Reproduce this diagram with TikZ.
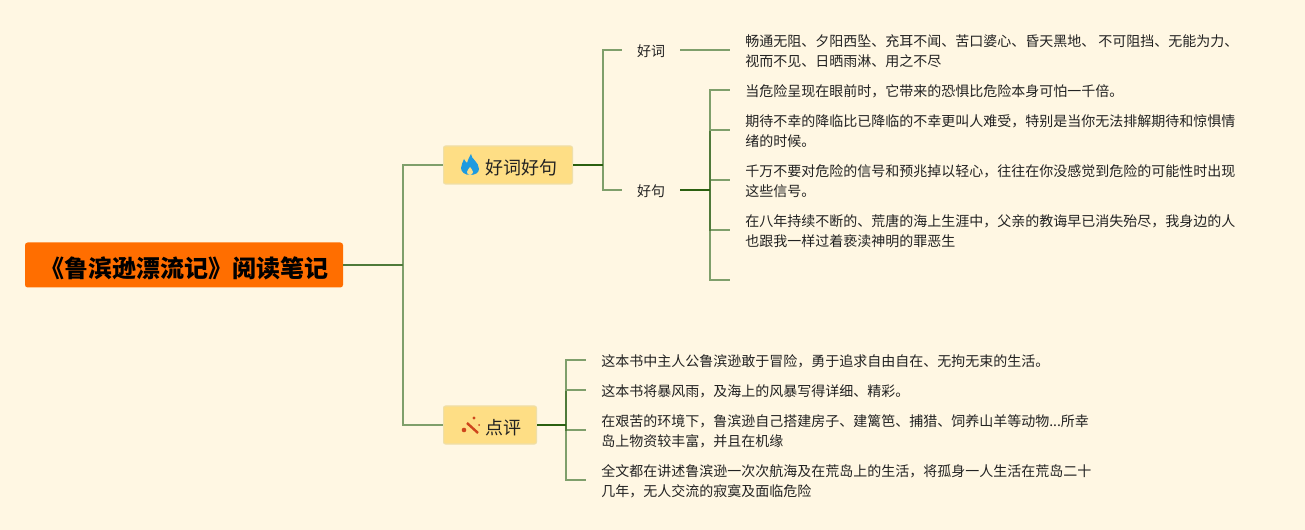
\documentclass[tikz,border=0pt]{standalone}
\usepackage{fontspec}
\setmainfont{Noto Sans CJK SC}
\definecolor{paper}{HTML}{FFF7E3}
\definecolor{rootfill}{HTML}{FF6E00}
\definecolor{topicfill}{HTML}{FEDE85}
\definecolor{topicline}{HTML}{EFDFA8}
\definecolor{lightlink}{HTML}{7F9F6B}
\definecolor{midlink}{HTML}{4F7A3A}
\definecolor{darklink}{HTML}{2B6010}
\definecolor{inktext}{HTML}{222222}
\definecolor{flameblue}{HTML}{1E9BE0}
\definecolor{wandred}{HTML}{CE451C}
\newcommand{\iconroom}{\hspace*{19.5pt}}
\tikzset{
  rootbox/.style={fill=rootfill,rounded corners=2pt,inner xsep=11.25pt,inner ysep=1pt,minimum height=33.75pt,
    text height=19.5pt,text depth=1.4pt,text=black,font=\fontsize{18}{22}\selectfont\bfseries},
  topicbox/.style={draw=topicline,fill=topicfill,line width=0.8pt,rounded corners=1.5pt,inner xsep=11.6pt,inner ysep=1pt,
    minimum height=28.5pt,text height=16.5pt,text depth=1.8pt,text=inktext,font=\fontsize{13.5}{16}\selectfont},
  sublabel/.style={inner xsep=11.25pt,inner ysep=2pt,text height=11.3pt,text depth=1.1pt,text=inktext,font=\fontsize{10.5}{15}\selectfont},
  leaf/.style={anchor=west,yshift=-0.75pt,inner xsep=11.25pt,inner ysep=2pt,align=left,text=inktext,font=\fontsize{10.5}{15}\selectfont},
  link/.style={draw=lightlink,line width=1.1pt},
  stem/.style={draw=darklink,line width=1.4pt},
  rootstem/.style={draw=midlink,line width=1.3pt},
  spine/.style={draw=midlink,line width=1.2pt},
}
\begin{document}
\begin{tikzpicture}[x=0.75pt,y=-0.75pt]
\useasboundingbox (0,0) rectangle (1305,530);
\fill[paper] (0,0) rectangle (1305,530);
% main nodes
\node[rootbox] (root) at (184,265) {《鲁滨逊漂流记》阅读笔记};
\node[topicbox] (good) at (508,165) {\iconroom 好词好句};
\node[topicbox] (review) at (490,425) {\iconroom 点评};
\node[sublabel] (words) at (651,50) {好词};
\node[sublabel] (lines) at (651,190) {好句};
% words and sentences
\node[leaf] (w1) at (730,50) {畅通无阻、夕阳西坠、充耳不闻、苦口婆心、昏天黑地、 不可阻挡、无能为力、\\视而不见、日晒雨淋、用之不尽};
\node[leaf] (s1) at (730,90) {当危险呈现在眼前时，它带来的恐惧比危险本身可怕一千倍。};
\node[leaf] (s2) at (730,130) {期待不幸的降临比已降临的不幸更叫人难受，特别是当你无法排解期待和惊惧情\\绪的时候。};
\node[leaf] (s3) at (730,180) {千万不要对危险的信号和预兆掉以轻心，往往在你没感觉到危险的可能性时出现\\这些信号。};
\node[leaf] (s4) at (730,230) {在八年持续不断的、荒唐的海上生涯中，父亲的教诲早已消失殆尽，我身边的人\\也跟我一样过着亵渎神明的罪恶生};
\coordinate (s5) at (730,280);
% review texts
\node[leaf] (r1) at (586,360) {这本书中主人公鲁滨逊敢于冒险，勇于追求自由自在、无拘无束的生活。};
\node[leaf] (r2) at (586,390) {这本书将暴风雨，及海上的风暴写得详细、精彩。};
\node[leaf] (r3) at (586,430) {在艰苦的环境下，鲁滨逊自己搭建房子、建篱笆、捕猎、饲养山羊等动物...所幸\\岛上物资较丰富，并且在机缘};
\node[leaf] (r4) at (586,480) {全文都在讲述鲁滨逊一次次航海及在荒岛上的生活，将孤身一人生活在荒岛二十\\几年，无人交流的寂寞及面临危险};
% spine positions
\coordinate (hubA) at (403,265);
\coordinate (hubB) at (603,165);
\coordinate (hubC) at (710,190);
\coordinate (hubD) at (566,425);
% connectors
\draw[link] (hubA) |- (good.west);
\draw[link] (hubA) |- (review.west);
\draw[rootstem] (root.east) -- (hubA);
\draw[link] (hubB) |- (words.west);
\draw[link] (hubB) |- (lines.west);
\draw[stem] (good.east) -- (hubB);
\draw[link] (words.east) -- ([yshift=0.75pt]w1.west);
\draw[link] (hubC) |- ([yshift=0.75pt]s1.west);
\draw[link] (hubC) |- ([yshift=0.75pt]s2.west);
\draw[link] (hubC) |- ([yshift=0.75pt]s3.west);
\draw[link] (hubC) |- ([yshift=0.75pt]s4.west);
\draw[link] (hubC) |- (s5);
\draw[spine] (hubC |- s2.west) -- (hubC |- s4.west);
\draw[stem] (lines.east) -- (hubC);
\draw[link] (hubD) |- ([yshift=0.75pt]r1.west);
\draw[link] (hubD) |- ([yshift=0.75pt]r2.west);
\draw[link] (hubD) |- ([yshift=0.75pt]r3.west);
\draw[link] (hubD) |- ([yshift=0.75pt]r4.west);
\draw[spine] (hubD |- r2.west) -- (hubD |- r3.west);
\draw[stem] (review.east) -- (hubD);
% icons
\fill[flameblue] (471,154) .. controls (471,159) and (479,162) .. (479,169)
  .. controls (479,173) and (475,175) .. (470,175)
  .. controls (465,175) and (461,172) .. (461,168)
  .. controls (461,165) and (463,162) .. (464,159)
  .. controls (465,161) and (466,162) .. (467,163)
  .. controls (468,160) and (469,157) .. (471,154) -- cycle;
\fill[topicfill] (470,167) .. controls (471,169) and (473,170) .. (473,172)
  .. controls (473,174) and (471,175) .. (470,175)
  .. controls (468,175) and (467,174) .. (467,172)
  .. controls (467,170) and (469,169) .. (470,167) -- cycle;
\draw[wandred,line width=1.8pt] (467,423) -- (478,433);
\fill[wandred] (474,418) circle (1.6);
\fill[wandred] (464,430) circle (2.3);
\fill[wandred] (479,425) circle (1);
\end{tikzpicture}
\end{document}
